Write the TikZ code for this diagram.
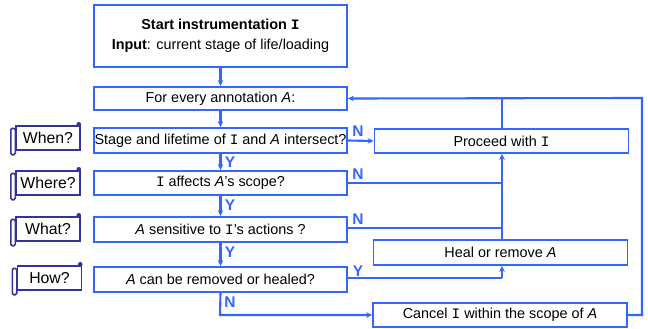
\documentclass[tikz,border=0pt]{standalone}
\usepackage{fontspec}
\setmainfont{Liberation Sans}
\newfontfamily\monoIfont{Liberation Mono}
\usetikzlibrary{arrows.meta,calc}
\definecolor{fblue}{RGB}{51,102,255}
\definecolor{navyc}{RGB}{51,51,153}
\newcommand{\Ii}{{\monoIfont I}}
\newcommand{\Aa}{\textit{A}}
\begin{document}
\begin{tikzpicture}[x=1pt,y=-1pt,
  box/.style={draw=fblue, line width=1.8pt, inner sep=0pt, minimum width=253pt, font=\fontsize{14.4}{20}\selectfont},
  rbox/.style={draw=fblue, line width=1.8pt, inner sep=0pt, minimum width=254pt, minimum height=24pt, font=\fontsize{14.4}{20}\selectfont},
  scroll/.style={draw=navyc, line width=1.5pt, inner sep=0pt, minimum width=64pt, minimum height=24pt, font=\fontsize{15.8}{18}\selectfont},
  lab/.style={text=fblue, font=\fontsize{15.5}{15}\selectfont\bfseries, inner sep=0pt},
  conn/.style={draw=fblue, line width=2.1pt},
  arr/.style={conn, -{Stealth[length=6pt,width=5.5pt]}}
]
\useasboundingbox (0,0) rectangle (648,329);

% main column
\node[box, minimum height=62pt, align=center] (start) at (220.5,36) {\textbf{Start instrumentation \Ii}\\\textbf{Input}: current stage of life/loading};
\node[box, minimum height=23pt] (every) at (220.5,98.5) {For every annotation \Aa:};
\node[box, minimum height=25pt] (stage) at (220.5,140.5) {Stage and lifetime of \Ii{} and \Aa{} intersect?};
\node[box, minimum height=24pt] (where) at (220.5,183) {\Ii{} affects \Aa's scope?};
\node[box, minimum height=25pt] (what) at (220.5,229.5) {\Aa{} sensitive to \Ii's actions ?};
\node[box, minimum height=25pt] (how) at (220.5,279.5) {\Aa{} can be removed or healed?};

% right column
\node[rbox] (proceed) at (501.5,141) {Proceed with \Ii};
\node[rbox, minimum height=25pt] (heal) at (500.5,252.5) {Heal or remove \Aa};
\node[rbox] (cancel) at (500,315) {Cancel \Ii{} within the scope of \Aa};

% scrolls
\foreach \n/\x/\y/\t in {when/48/138/When?, wher/48/183/Where?, wha/48/229/What?, ho/49.5/278/How?}{
  \node[scroll] (\n) at (\x,\y) {\t};
  \draw[navyc, line width=1.5pt, rounded corners=1.5pt] ($(\n.north west)+(-4.5,3)$) rectangle ($(\n.south west)+(0,4)$);
  \fill[navyc] ($(\n.north east)+(-2,-1)$) circle (2.3pt);
}

% vertical flow
\draw[arr] (start.south) -- (every.north);
\draw[arr] (every.south) -- (stage.north);
\draw[arr] (stage.south) -- (where.north);
\draw[arr] (where.south) -- (what.north);
\draw[arr] (what.south) -- (how.north);

% branches
\coordinate (j1) at (502,183);
\coordinate (j2) at (502,228);
\coordinate (j3) at (502,278);
\coordinate (loopR) at (642,315);
\coordinate (loopT) at (642,98);
\coordinate (pTop) at (502,98);
\coordinate (hb) at (220,315);

\draw[arr] (stage.east) -- (proceed.west);
\draw[conn] (where.east) -- (j1);
\draw[conn] (what.east |- j2) -- (j2);
\draw[arr] (heal.north -| j1) -- (proceed.south -| j1);
\draw[conn] (how.east |- j3) -- (j3);
\draw[arr] (j3) -- (heal.south -| j3);
\draw[conn] (proceed.north -| pTop) -- (pTop);
\draw[arr] (cancel.east) -- (loopR) -- (loopT) -- (every.east);
\draw[arr] (how.south) -- (hb) -- (cancel.west);

% labels
\node[lab] at (230,162) {Y};
\node[lab] at (230,205) {Y};
\node[lab] at (230,252) {Y};
\node[lab] at (230,302) {N};
\node[lab] at (358,131) {N};
\node[lab] at (358,174) {N};
\node[lab] at (358,219) {N};
\node[lab] at (358,271) {Y};
\end{tikzpicture}
\end{document}
